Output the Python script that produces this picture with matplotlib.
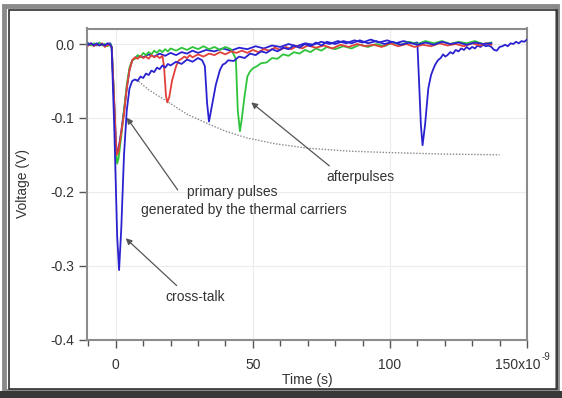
import matplotlib
matplotlib.use("Agg")
import matplotlib.pyplot as plt
from matplotlib.patches import Rectangle

plt.rcParams['font.family'] = ['Liberation Sans', 'DejaVu Sans']

# ---- data (time in ns, voltage in V) ----
red_t = [-10, -9, -8, -7, -6, -5, -4, -3, -2, -1.5, -0.8, 0, 0.4, 1, 2, 3, 4, 5, 6, 7, 8, 9,
         10, 11, 12, 13, 14, 15, 16, 17, 17.6, 18.3, 18.8, 19.5, 20.5, 22, 23, 24, 25, 26, 27,
         28, 30, 32, 34, 36, 38, 40, 42, 44, 46, 48, 50, 52, 54, 56, 58, 60, 62, 64, 66, 68,
         70, 73, 76, 79, 82, 85, 88, 91, 94, 97, 100, 103, 106, 109, 112, 115, 118, 121, 124,
         127, 130, 133, 135, 137]
red_v = [-0.002, 0.001, -0.003, 0.0, -0.002, 0.001, -0.004, -0.001, -0.002, -0.004, -0.06,
         -0.13, -0.15, -0.145, -0.12, -0.095, -0.06, -0.035, -0.022, -0.018, -0.02, -0.016,
         -0.019, -0.017, -0.02, -0.015, -0.018, -0.016, -0.019, -0.016, -0.03, -0.07, -0.079,
         -0.072, -0.05, -0.03, -0.022, -0.02, -0.017, -0.019, -0.015, -0.018, -0.014, -0.017,
         -0.013, -0.015, -0.011, -0.014, -0.01, -0.012, -0.009, -0.012, -0.008, -0.011,
         -0.007, -0.009, -0.005, -0.008, -0.004, -0.007, -0.003, -0.006, -0.002, -0.005,
         -0.002, -0.006, -0.001, -0.004, 0.0, -0.003, -0.001, -0.004, 0.001, -0.003, 0.0,
         -0.004, -0.001, -0.003, 0.001, -0.002, 0.0, -0.003, 0.001, -0.002, 0.001, -0.001]

green_t = [-10, -9, -8, -7, -6, -5, -4, -3, -2, -1.5, -0.8, 0, 0.5, 1, 2, 3, 4, 5, 6, 7, 8, 9,
           10, 11, 12, 13, 14, 15, 16, 17, 18, 19, 20, 22, 24, 26, 28, 30, 32, 34, 36, 38, 40,
           42, 43.8, 44.5, 45.3, 46, 47, 48, 49, 50, 51.5, 53, 55, 57, 59, 61, 63, 65, 67, 69,
           71, 73, 75, 77, 80, 83, 86, 89, 92, 95, 98, 101, 104, 107, 110, 113, 116, 119, 122,
           125, 128, 131, 134, 137]
green_v = [0.0, -0.002, 0.001, -0.001, 0.002, -0.002, 0.0, -0.003, 0.0, -0.004, -0.06, -0.14,
           -0.162, -0.155, -0.125, -0.09, -0.055, -0.032, -0.022, -0.02, -0.015, -0.018,
           -0.012, -0.015, -0.011, -0.014, -0.009, -0.012, -0.008, -0.011, -0.007, -0.01,
           -0.006, -0.009, -0.005, -0.008, -0.004, -0.007, -0.003, -0.007, -0.004, -0.008,
           -0.004, -0.007, -0.02, -0.09, -0.118, -0.1, -0.07, -0.044, -0.037, -0.033, -0.03,
           -0.026, -0.025, -0.019, -0.02, -0.014, -0.016, -0.011, -0.013, -0.008, -0.011,
           -0.006, -0.009, -0.004, -0.007, -0.003, -0.006, -0.001, -0.004, 0.0, -0.003, 0.002,
           -0.001, 0.003, 0.0, 0.004, 0.001, 0.004, 0.0, 0.003, 0.001, 0.004, 0.0, 0.002]

blue1_t = [-10, -9, -8, -7, -6, -5, -4, -3, -2, -1.5, -0.5, 0.5, 1.2, 2, 3, 4, 5, 6, 7, 8, 9,
           10, 11, 12, 13, 14, 15, 16, 17, 18, 19, 20, 22, 24, 26, 28, 30, 31.5, 32.5, 33.3,
           34, 35, 36.5, 38, 39, 40, 41, 43, 45, 47, 49, 51, 53, 55, 57, 59, 61, 63, 65, 67,
           69, 71, 73, 75, 77, 80, 83, 86, 89, 92, 95, 98, 101, 104, 107, 110, 113, 116, 119,
           122, 125, 128, 131, 134, 137]
blue1_v = [-0.001, 0.001, -0.002, 0.001, -0.002, 0.0, -0.002, 0.001, -0.001, -0.005, -0.12,
           -0.26, -0.306, -0.25, -0.15, -0.09, -0.06, -0.05, -0.048, -0.05, -0.044, -0.046,
           -0.04, -0.042, -0.036, -0.038, -0.032, -0.034, -0.029, -0.032, -0.027, -0.029,
           -0.024, -0.027, -0.021, -0.024, -0.019, -0.022, -0.03, -0.08, -0.105, -0.085,
           -0.055, -0.035, -0.028, -0.026, -0.022, -0.023, -0.017, -0.019, -0.013, -0.015,
           -0.01, -0.012, -0.007, -0.01, -0.005, -0.007, -0.002, -0.005, 0.0, -0.003, 0.002,
           -0.002, 0.003, 0.0, 0.004, 0.001, 0.005, 0.001, 0.004, 0.0, 0.003, -0.001, 0.002,
           -0.001, 0.002, -0.001, 0.003, 0.0, 0.002, -0.001, 0.002, 0.0, 0.001]

blue2_t = [-10, -9, -8, -7, -6, -5, -4, -3, -2, -1.5, -0.8, 0, 0.4, 1, 2, 3, 4, 5, 6, 7, 8, 10,
           12, 14, 16, 18, 20, 22, 24, 26, 28, 30, 33, 36, 39, 42, 45, 48, 51, 54, 57, 60, 63,
           66, 69, 72, 75, 78, 81, 84, 87, 90, 93, 96, 99, 102, 105, 108, 110, 110.5, 111.3,
           111.9, 112.8, 114, 115, 115.7, 116.5, 117.5, 118.5, 119.4, 120.2, 121, 122, 123,
           124, 125, 126, 127, 128, 129, 130, 131, 132, 133, 134, 135, 136, 137, 138, 139,
           140, 141, 142, 143, 144, 145, 146, 147, 148, 149, 150]
blue2_v = [0.001, -0.001, 0.0, -0.002, 0.001, -0.001, -0.002, 0.0, 0.001, -0.004, -0.06,
           -0.13, -0.148, -0.142, -0.118, -0.09, -0.06, -0.035, -0.022, -0.019, -0.016,
           -0.018, -0.014, -0.017, -0.013, -0.016, -0.012, -0.015, -0.011, -0.013, -0.009,
           -0.012, -0.008, -0.01, -0.006, -0.009, -0.005, -0.007, -0.003, -0.006, -0.002,
           -0.004, 0.0, -0.003, 0.001, -0.001, 0.003, 0.0, 0.004, 0.001, 0.005, 0.002, 0.006,
           0.002, 0.005, 0.001, 0.004, 0.001, 0.002, -0.04, -0.11, -0.137, -0.11, -0.06,
           -0.042, -0.035, -0.028, -0.022, -0.019, -0.014, -0.017, -0.015, -0.011, -0.013,
           -0.008, -0.01, -0.006, -0.008, -0.004, -0.007, -0.004, -0.006, -0.002, -0.004,
           -0.001, -0.003, -0.002, -0.004, -0.008, -0.009, -0.004, -0.003, -0.001, -0.003,
           0.001, 0.0, 0.003, 0.001, 0.004, 0.003, 0.006]

env_t = [7.5, 12, 19.7, 26, 33, 40, 47.7, 58, 70, 85, 100, 120, 140]
env_v = [-0.048, -0.062, -0.080, -0.095, -0.107, -0.118, -0.127, -0.135, -0.141, -0.145,
         -0.147, -0.149, -0.150]

x_ticks = [0, 50, 100, 150]
x_labels = ['0', '50', '100', '']
x_last_label = '150x10'
x_last_exp = '-9'
y_ticks = [0.0, -0.1, -0.2, -0.3, -0.4]
y_labels = ['0.0', '-0.1', '-0.2', '-0.3', '-0.4']

W, H = 562, 398
fig = plt.figure(figsize=(W / 100, H / 100), dpi=100)
fig.patch.set_facecolor('white')

def fx(px):
    return px / W

def fy(py):
    return 1 - py / H

# outer frame decoration
fig.patches.append(Rectangle((fx(4), fy(391)), fx(553), (385 / H), transform=fig.transFigure,
                             fill=False, edgecolor='#8a8a8a', lw=3.5, zorder=0))
fig.patches.append(Rectangle((fx(9), fy(389)), fx(548), (379 / H), transform=fig.transFigure,
                             fill=False, edgecolor='#303030', lw=1.2, zorder=0))
fig.patches.append(Rectangle((0, 0), 1, 7 / H, transform=fig.transFigure,
                             facecolor='#383838', edgecolor='none', zorder=0))

ax = fig.add_axes([fx(87), fy(339.5), fx(527) - fx(87), (339.5 - 28.5) / H])
ax.set_xlim(-10.5, 150)
ax.set_ylim(-0.4, 0.021)

ax.grid(True, which='major', color='#ececec', lw=0.8)
ax.set_axisbelow(True)

lw = 1.3
ax.plot(env_t, env_v, color='#888888', lw=1.0, ls=(0, (1, 1.2)), zorder=2)
ax.plot(blue2_t, blue2_v, color='#2a22d0', lw=lw, zorder=3)
ax.plot(green_t, green_v, color='#2ec43a', lw=lw, zorder=4)
ax.plot(red_t, red_v, color='#e2403a', lw=lw, zorder=5)
ax.plot(blue1_t, blue1_v, color='#2a22d0', lw=lw, zorder=6)

ax.set_xticks(x_ticks)
ax.set_xticklabels(x_labels)
ax.set_xticks(list(range(-10, 150, 10)), minor=True)
ax.set_yticks(y_ticks)
ax.set_yticklabels(y_labels)

for s in ax.spines.values():
    s.set_color('#8c8c8c')
    s.set_linewidth(1.5)
ax.tick_params(axis='both', which='major', length=6, width=1.0, color='#555555',
               labelsize=10, labelcolor='#333333')
ax.tick_params(axis='x', which='major', pad=7)
ax.tick_params(axis='y', which='major', pad=3)
ax.tick_params(axis='x', which='minor', length=4, width=1.0, color='#555555')

# last x tick label with exponent
ax.text(154.8, -0.4255, x_last_label, fontsize=10, color='#333333', ha='right', va='top',
        clip_on=False)
ax.text(155.3, -0.4175, x_last_exp, fontsize=7, color='#333333', ha='left', va='top',
        clip_on=False)

ax.set_xlabel('Time (s)', fontsize=10, color='#333333', labelpad=1)
ax.set_ylabel('Voltage (V)', fontsize=10, color='#333333', labelpad=15)

arrow = dict(arrowstyle='-|>', color='#555555', lw=0.9, mutation_scale=9,
             shrinkA=0, shrinkB=0)
ax.annotate('', xy=(4.0, -0.0996), xytext=(22.6, -0.1976), arrowprops=arrow)
ax.annotate('', xy=(3.6, -0.263), xytext=(22.2, -0.327), arrowprops=arrow)
ax.annotate('', xy=(49.4, -0.079), xytext=(77.9, -0.165), arrowprops=arrow)

tkw = dict(fontsize=10, color='#333333', ha='center', va='center')
ax.text(42.4, -0.2004, 'primary pulses', **tkw)
ax.text(46.6, -0.2249, 'generated by the thermal carriers', **tkw)
ax.text(28.8, -0.343, 'cross-talk', **tkw)
ax.text(89.2, -0.180, 'afterpulses', **tkw)

fig.savefig('out.png', dpi=100)
